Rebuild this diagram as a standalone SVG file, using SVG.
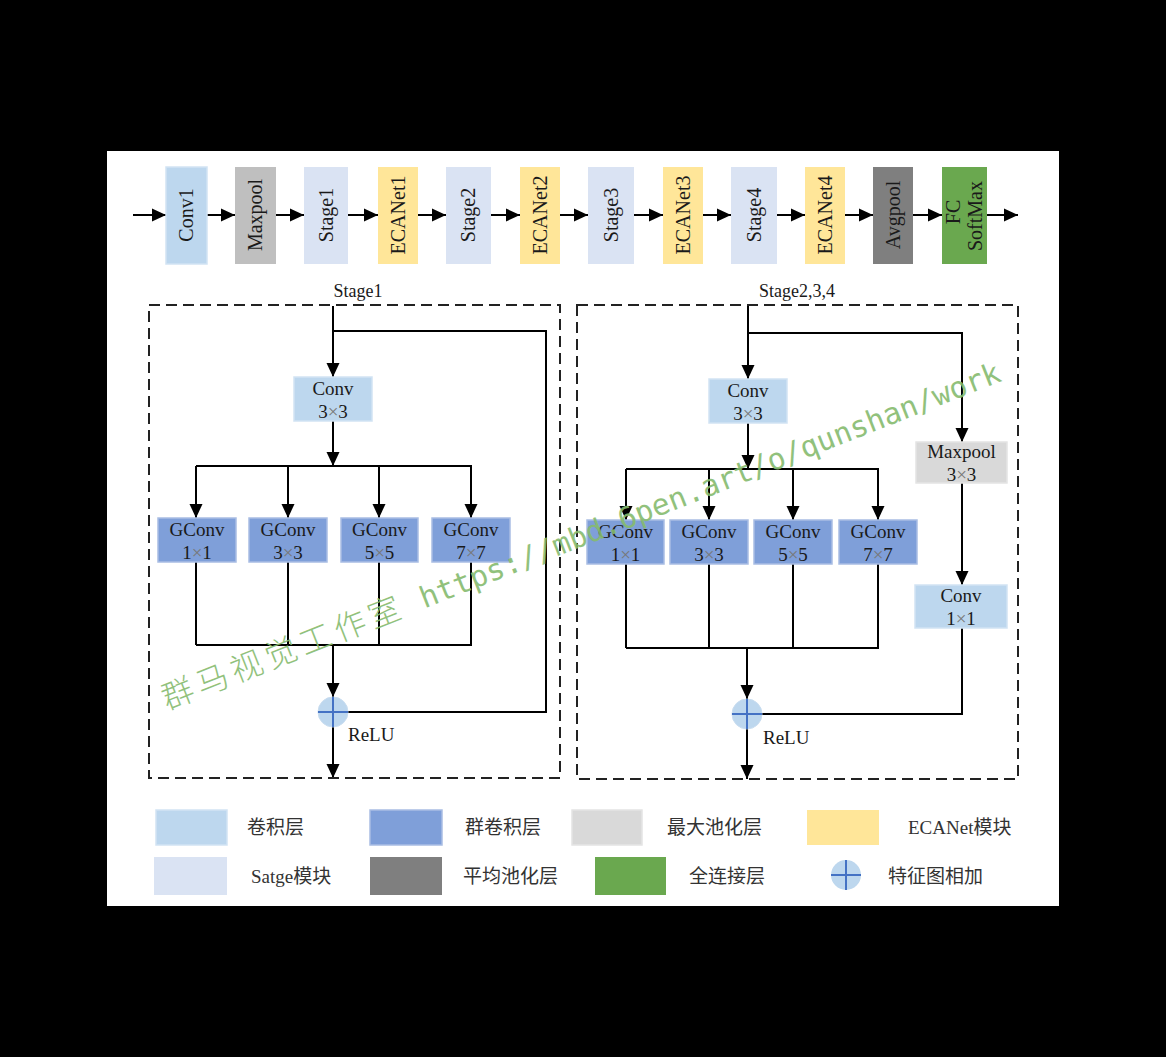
<svg xmlns="http://www.w3.org/2000/svg" width="1166" height="1057" viewBox="0 0 1166 1057">
<defs>
<style>
.t{font-family:"Liberation Serif","Noto Sans CJK SC",serif;fill:#1a1a1a}
.cn{font-family:"Liberation Serif","Noto Sans CJK SC",serif;fill:#333;font-size:19px}
.c{stroke:#000;stroke-width:2;fill:none}
.a{marker-end:url(#ah)}
.dash{stroke:#222;stroke-width:2;fill:none;stroke-dasharray:11 6}
.conv{fill:#BDD7EE;stroke:#D2E3F3;stroke-width:1.5}
.gconv{fill:#7F9FD9;stroke:#A9BDE3;stroke-width:1.5}
.mp{fill:#BFBFBF}
.mp2{fill:#D9D9D9;stroke:#E4E4E4;stroke-width:1.5}
.stg{fill:#DAE3F3}
.eca{fill:#FFE699}
.avg{fill:#7F7F7F}
.fc{fill:#6AA84F}
.x{fill:#777}
</style>
<marker id="ah" markerUnits="userSpaceOnUse" markerWidth="15" markerHeight="15" refX="14" refY="7.5" orient="auto">
<path d="M0,1 L14,7.5 L0,14 z" fill="#000"/>
</marker>
</defs>
<rect width="1166" height="1057" fill="#000"/>
<rect x="107" y="151" width="952" height="755" fill="#fff"/>

<g id="connectors">
<path class="c a" d="M133,215 H166"/>
<path class="c a" d="M207,215 H235"/>
<path class="c a" d="M276,215 H304"/>
<path class="c a" d="M348,215 H378"/>
<path class="c a" d="M418,215 H446"/>
<path class="c a" d="M491,215 H520"/>
<path class="c a" d="M560,215 H588"/>
<path class="c a" d="M634,215 H663"/>
<path class="c a" d="M703,215 H731"/>
<path class="c a" d="M777,215 H805"/>
<path class="c a" d="M845,215 H873"/>
<path class="c a" d="M913,215 H942"/>
<path class="c a" d="M987,215 H1018"/>

<path class="c a" d="M333,306 V377"/>
<path class="c" d="M333,331 H546 V712 H348"/>
<path class="c a" d="M333,421 V466"/>
<path class="c" d="M196,466 H472"/>
<path class="c a" d="M196,466 V518"/>
<path class="c a" d="M288,466 V518"/>
<path class="c a" d="M379,466 V518"/>
<path class="c a" d="M471,466 V518"/>
<path class="c" d="M196,562 V645 M288,562 V645 M379,562 V645 M471,562 V645 M196,645 H472"/>
<path class="c a" d="M333,645 V697"/>
<path class="c a" d="M333,727 V778"/>

<path class="c a" d="M748,306 V379"/>
<path class="c a" d="M748,333 H962 V442"/>
<path class="c a" d="M748,423 V469"/>
<path class="c" d="M626,469 H879"/>
<path class="c a" d="M626,469 V520"/>
<path class="c a" d="M709,469 V520"/>
<path class="c a" d="M793,469 V520"/>
<path class="c a" d="M878,469 V520"/>
<path class="c" d="M626,564 V648 M709,564 V648 M793,564 V648 M878,564 V648 M626,648 H879"/>
<path class="c a" d="M747,648 V699"/>
<path class="c a" d="M962,483 V585"/>
<path class="c" d="M962,628 V714 H762"/>
<path class="c a" d="M747,729 V779"/>
</g>

<g id="top-row">
<g id="n-conv1"><rect class="conv" x="166" y="167" width="41" height="97"/><text class="t" font-size="20" text-anchor="middle" transform="translate(186.5,215) rotate(-90)" dy="0.33em">Conv1</text></g>
<g id="n-maxpool"><rect class="mp" x="235" y="167" width="41" height="97"/><text class="t" font-size="20" text-anchor="middle" transform="translate(255.5,215) rotate(-90)" dy="0.33em">Maxpool</text></g>
<g id="n-stage1"><rect class="stg" x="304" y="167" width="44" height="97"/><text class="t" font-size="20" text-anchor="middle" transform="translate(326,215) rotate(-90)" dy="0.33em">Stage1</text></g>
<g id="n-eca1"><rect class="eca" x="378" y="167" width="40" height="97"/><text class="t" font-size="20" text-anchor="middle" transform="translate(398,215) rotate(-90)" dy="0.33em">ECANet1</text></g>
<g id="n-stage2"><rect class="stg" x="446" y="167" width="45" height="97"/><text class="t" font-size="20" text-anchor="middle" transform="translate(468.5,215) rotate(-90)" dy="0.33em">Stage2</text></g>
<g id="n-eca2"><rect class="eca" x="520" y="167" width="40" height="97"/><text class="t" font-size="20" text-anchor="middle" transform="translate(540,215) rotate(-90)" dy="0.33em">ECANet2</text></g>
<g id="n-stage3"><rect class="stg" x="588" y="167" width="46" height="97"/><text class="t" font-size="20" text-anchor="middle" transform="translate(611,215) rotate(-90)" dy="0.33em">Stage3</text></g>
<g id="n-eca3"><rect class="eca" x="663" y="167" width="40" height="97"/><text class="t" font-size="20" text-anchor="middle" transform="translate(683,215) rotate(-90)" dy="0.33em">ECANet3</text></g>
<g id="n-stage4"><rect class="stg" x="731" y="167" width="46" height="97"/><text class="t" font-size="20" text-anchor="middle" transform="translate(754,215) rotate(-90)" dy="0.33em">Stage4</text></g>
<g id="n-eca4"><rect class="eca" x="805" y="167" width="40" height="97"/><text class="t" font-size="20" text-anchor="middle" transform="translate(825,215) rotate(-90)" dy="0.33em">ECANet4</text></g>
<g id="n-avgpool"><rect class="avg" x="873" y="167" width="40" height="97"/><text class="t" font-size="20" text-anchor="middle" transform="translate(893,215) rotate(-90)" dy="0.33em">Avgpool</text></g>
<g id="n-fc"><rect class="fc" x="942" y="167" width="45" height="97"/><text class="t" font-size="20" text-anchor="middle" transform="translate(953,212) rotate(-90)" dy="0.33em">FC</text><text class="t" font-size="20" text-anchor="middle" transform="translate(975,216) rotate(-90)" dy="0.33em">SoftMax</text></g>
</g>

<g id="stage1-block">
<text class="t" font-size="18" x="358" y="297" text-anchor="middle">Stage1</text>
<rect class="dash" x="149" y="305" width="411" height="473"/>
<g id="s1-conv"><rect class="conv" x="294" y="377" width="78" height="44"/><text class="t" font-size="19" x="333" y="395" text-anchor="middle">Conv</text><text class="t" font-size="19" x="333" y="418" text-anchor="middle">3<tspan class="x">×</tspan>3</text></g>
<g id="s1-g1"><rect class="gconv" x="158" y="518" width="78" height="44"/><text class="t" font-size="19" x="197" y="536" text-anchor="middle">GConv</text><text class="t" font-size="19" x="197" y="559" text-anchor="middle">1<tspan class="x">×</tspan>1</text></g>
<g id="s1-g3"><rect class="gconv" x="249" y="518" width="78" height="44"/><text class="t" font-size="19" x="288" y="536" text-anchor="middle">GConv</text><text class="t" font-size="19" x="288" y="559" text-anchor="middle">3<tspan class="x">×</tspan>3</text></g>
<g id="s1-g5"><rect class="gconv" x="341" y="518" width="77" height="44"/><text class="t" font-size="19" x="379.5" y="536" text-anchor="middle">GConv</text><text class="t" font-size="19" x="379.5" y="559" text-anchor="middle">5<tspan class="x">×</tspan>5</text></g>
<g id="s1-g7"><rect class="gconv" x="432" y="518" width="78" height="44"/><text class="t" font-size="19" x="471" y="536" text-anchor="middle">GConv</text><text class="t" font-size="19" x="471" y="559" text-anchor="middle">7<tspan class="x">×</tspan>7</text></g>
<g id="s1-add"><circle cx="333" cy="712" r="15" fill="#BDD7EE" stroke="#C9DDF0" stroke-width="1"/><path d="M318,712 H348 M333,697 V727" stroke="#4472C4" stroke-width="2"/></g>
<text class="t" font-size="19" x="348" y="741">ReLU</text>
</g>

<g id="stage234-block">
<text class="t" font-size="18" x="797" y="297" text-anchor="middle">Stage2,3,4</text>
<rect class="dash" x="577" y="305" width="441" height="474"/>
<g id="s2-conv"><rect class="conv" x="709" y="379" width="78" height="44"/><text class="t" font-size="19" x="748" y="397" text-anchor="middle">Conv</text><text class="t" font-size="19" x="748" y="420" text-anchor="middle">3<tspan class="x">×</tspan>3</text></g>
<g id="s2-maxpool"><rect class="mp2" x="916" y="442" width="91" height="41"/><text class="t" font-size="19" x="961.5" y="458" text-anchor="middle">Maxpool</text><text class="t" font-size="19" x="961.5" y="481" text-anchor="middle">3<tspan class="x">×</tspan>3</text></g>
<g id="s2-conv1"><rect class="conv" x="915" y="585" width="92" height="43"/><text class="t" font-size="19" x="961" y="602" text-anchor="middle">Conv</text><text class="t" font-size="19" x="961" y="625" text-anchor="middle">1<tspan class="x">×</tspan>1</text></g>
<g id="s2-g1"><rect class="gconv" x="587" y="520" width="77" height="44"/><text class="t" font-size="19" x="625.5" y="538" text-anchor="middle">GConv</text><text class="t" font-size="19" x="625.5" y="561" text-anchor="middle">1<tspan class="x">×</tspan>1</text></g>
<g id="s2-g3"><rect class="gconv" x="670" y="520" width="78" height="44"/><text class="t" font-size="19" x="709" y="538" text-anchor="middle">GConv</text><text class="t" font-size="19" x="709" y="561" text-anchor="middle">3<tspan class="x">×</tspan>3</text></g>
<g id="s2-g5"><rect class="gconv" x="754" y="520" width="78" height="44"/><text class="t" font-size="19" x="793" y="538" text-anchor="middle">GConv</text><text class="t" font-size="19" x="793" y="561" text-anchor="middle">5<tspan class="x">×</tspan>5</text></g>
<g id="s2-g7"><rect class="gconv" x="839" y="520" width="78" height="44"/><text class="t" font-size="19" x="878" y="538" text-anchor="middle">GConv</text><text class="t" font-size="19" x="878" y="561" text-anchor="middle">7<tspan class="x">×</tspan>7</text></g>
<g id="s2-add"><circle cx="747" cy="714" r="15" fill="#BDD7EE" stroke="#C9DDF0" stroke-width="1"/><path d="M732,714 H762 M747,699 V729" stroke="#4472C4" stroke-width="2"/></g>
<text class="t" font-size="19" x="763" y="744">ReLU</text>
</g>

<g id="legend">
<rect class="conv" x="156" y="810" width="71" height="35"/><text class="cn" x="247" y="834">卷积层</text>
<rect class="gconv" x="370" y="810" width="72" height="35"/><text class="cn" x="465" y="834">群卷积层</text>
<rect class="mp2" x="572" y="810" width="70" height="35"/><text class="cn" x="667" y="834">最大池化层</text>
<rect class="eca" x="807" y="810" width="72" height="35"/><text class="cn" x="908" y="834">ECANet模块</text>
<rect class="stg" x="154" y="857" width="73" height="38"/><text class="cn" x="251" y="883">Satge模块</text>
<rect class="avg" x="370" y="857" width="72" height="38"/><text class="cn" x="463" y="883">平均池化层</text>
<rect class="fc" x="595" y="857" width="71" height="38"/><text class="cn" x="689" y="883">全连接层</text>
<circle cx="846" cy="875" r="15" fill="#BDD7EE"/><path d="M831,875 H861 M846,860 V890" stroke="#4472C4" stroke-width="2"/>
<text class="cn" x="888" y="883">特征图相加</text>
</g>

<g id="watermark" transform="rotate(-21.5 167 710)" opacity="0.9">
<text x="167" y="710" fill="#86BB6E"><tspan font-family="'Noto Sans CJK SC',sans-serif" font-size="32" font-weight="300" letter-spacing="5">群马视觉工作室</tspan><tspan font-family="'DejaVu Sans Mono',monospace" font-size="29.5" letter-spacing="0"> https://mbd.6pen.art/o/qunshan/work</tspan></text>
</g>
</svg>
